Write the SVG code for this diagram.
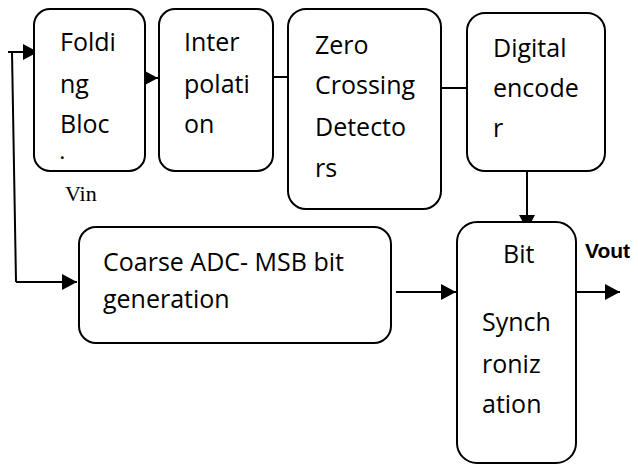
<svg xmlns="http://www.w3.org/2000/svg" width="638" height="466" viewBox="0 0 638 466">
<style>
.box{fill:#fff;stroke:#000;stroke-width:2}
.t{font-family:"Open Sans","Noto Sans",sans-serif;font-size:25px;fill:#000}
.ln{stroke:#000;stroke-width:2;fill:none}
</style>
<defs>
<marker id="ah" markerUnits="userSpaceOnUse" markerWidth="16" markerHeight="16" refX="15" refY="8" orient="auto">
<path d="M0,0 L15,8 L0,16 Z" fill="#000"/>
</marker>
</defs>
<rect width="638" height="466" fill="#fff"/>
<g id="connectors">
<line class="ln" x1="8" y1="52" x2="38" y2="52" marker-end="url(#ah)"/>
<line class="ln" x1="12" y1="52" x2="16" y2="282"/>
<line class="ln" x1="16" y1="282" x2="77" y2="282" marker-end="url(#ah)"/>
<line class="ln" x1="145" y1="78" x2="158" y2="78" marker-end="url(#ah)"/>
<line class="ln" x1="273" y1="77" x2="288" y2="77"/>
<line class="ln" x1="441" y1="88" x2="467" y2="88"/>
<line class="ln" x1="527" y1="171" x2="527" y2="230" marker-end="url(#ah)"/>
<line class="ln" x1="396" y1="292" x2="456" y2="292" marker-end="url(#ah)"/>
<line class="ln" x1="576" y1="292" x2="620" y2="292" marker-end="url(#ah)"/>
</g>
<g id="folding">
<rect class="box" x="34" y="9" width="111" height="162" rx="16"/>
<text class="t" x="60" y="51">Foldi</text>
<text class="t" x="60" y="93">ng</text>
<text class="t" x="60" y="133">Bloc</text>
<text x="60" y="159" font-family="Open Sans,sans-serif" font-size="16" font-weight="bold">.</text>
</g>
<g id="interpolation">
<rect class="box" x="159" y="9" width="114" height="162" rx="16"/>
<text class="t" x="184" y="51">Inter</text>
<text class="t" x="184" y="93">polati</text>
<text class="t" x="184" y="133">on</text>
</g>
<g id="zero-crossing">
<rect class="box" x="288" y="9" width="153" height="200" rx="18"/>
<text class="t" x="315" y="54">Zero</text>
<text class="t" x="315" y="94">Crossing</text>
<text class="t" x="315" y="136">Detecto</text>
<text class="t" x="315" y="177">rs</text>
</g>
<g id="digital-encoder">
<rect class="box" x="467" y="13" width="138" height="158" rx="18"/>
<text class="t" x="493" y="57">Digital</text>
<text class="t" x="493" y="97">encode</text>
<text class="t" x="493" y="137">r</text>
</g>
<g id="coarse-adc">
<rect class="box" x="79" y="227" width="312" height="116" rx="17"/>
<text class="t" x="103" y="271">Coarse ADC- MSB bit</text>
<text class="t" x="103" y="308">generation</text>
</g>
<g id="bit-sync">
<rect class="box" x="457" y="222" width="119" height="241" rx="20"/>
<text class="t" x="503" y="263">Bit</text>
<text class="t" x="482" y="331">Synch</text>
<text class="t" x="482" y="373">roniz</text>
<text class="t" x="482" y="413">ation</text>
</g>
<g id="labels">
<text x="65" y="201" font-family="Liberation Serif,serif" font-size="22">Vin</text>
<text x="585" y="258" font-family="Liberation Sans,sans-serif" font-size="21" font-weight="bold">Vout</text>
</g>
</svg>
